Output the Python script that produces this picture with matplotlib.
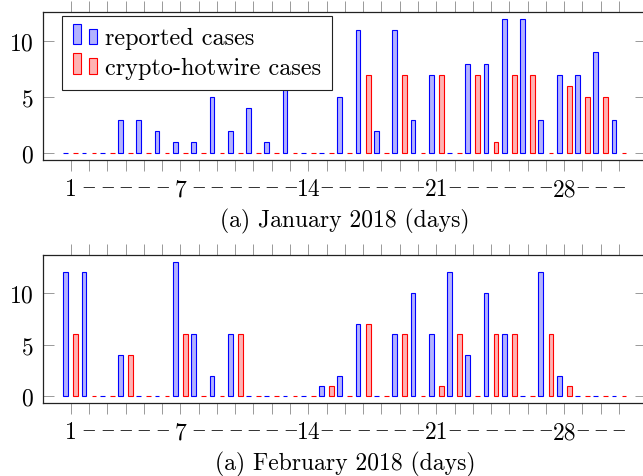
import matplotlib
matplotlib.use('Agg')
import matplotlib.pyplot as plt
from matplotlib.patches import Rectangle
from matplotlib.legend_handler import HandlerBase
from matplotlib.transforms import ScaledTranslation

plt.rcParams['font.family'] = 'serif'
plt.rcParams['font.serif'] = ['cmr10']
plt.rcParams['mathtext.fontset'] = 'cm'
plt.rcParams['axes.formatter.use_mathtext'] = True

# ---------------- data ----------------
days = list(range(1, 32))
jan_reported = [0, 0, 0, 3, 3, 2, 1, 1, 5, 2, 4, 1, 6, 0, 0, 5,
                11, 2, 11, 3, 7, 0, 8, 8, 12, 12, 3, 7, 7, 9, 3]
jan_crypto = [0, 0, 0, 0, 0, 0, 0, 0, 0, 0, 0, 0, 0, 0, 0, 0,
              7, 0, 7, 0, 7, 0, 7, 1, 7, 7, 0, 6, 5, 5, 0]
feb_reported = [12, 12, 0, 4, 0, 0, 13, 6, 2, 6, 0, 0, 0, 0, 1, 2,
                7, 0, 6, 10, 6, 12, 4, 10, 6, 0, 12, 2, 0, 0, 0]
feb_crypto = [6, 0, 0, 4, 0, 0, 6, 0, 0, 6, 0, 0, 0, 0, 1, 0,
              7, 0, 6, 0, 1, 6, 0, 6, 6, 0, 6, 1, 0, 0, 0]
labeled_days = [1, 7, 14, 21, 28]
tick_labels = [str(d) if d in labeled_days else r'$-$' for d in days]
series_labels = ['reported cases', 'crypto-hotwire cases']
titles = ['(a) January 2018 (days)', '(a) February 2018 (days)']
yticks = [0, 5, 10]

BLUE_E, BLUE_F = '#0000ff', '#b3b3ff'
RED_E, RED_F = '#ff0000', '#ffb3b3'

W, H = 643, 477
fig = plt.figure(figsize=(W / 100, H / 100), dpi=100)


def px_axes(l, t, r, b):
    return fig.add_axes([l / W, 1 - b / H, (r - l) / W, (b - t) / H])


ax1 = px_axes(43.3, 13, 646.4, 161)
ax2 = px_axes(43.3, 256, 646.4, 404)


class BarPairHandler(HandlerBase):
    def __init__(self, fc, ec):
        super().__init__()
        self.fc, self.ec = fc, ec

    def create_artists(self, legend, orig_handle, xdescent, ydescent,
                       width, height, fontsize, trans):
        w = width / 3.0
        r1 = Rectangle((-xdescent, -ydescent), w, 1.2 * height,
                       facecolor=self.fc, edgecolor=self.ec, lw=0.8,
                       transform=trans)
        r2 = Rectangle((-xdescent + 2 * w, -ydescent), w, 0.9 * height,
                       facecolor=self.fc, edgecolor=self.ec, lw=0.8,
                       transform=trans)
        return [r1, r2]


FS = 17
bw = 0.26
off = 0.275
for ax, rep, cry, title, ymax in [(ax1, jan_reported, jan_crypto, titles[0], 12),
                                  (ax2, feb_reported, feb_crypto, titles[1], 13)]:
    xb = [d - off for d in days]
    xr = [d + off for d in days]
    b1 = ax.bar(xb, rep, width=bw, facecolor=BLUE_F, edgecolor=BLUE_E, linewidth=0.8)
    b2 = ax.bar(xr, cry, width=bw, facecolor=RED_F, edgecolor=RED_E, linewidth=0.8)
    ax.set_xlim(-0.5, 32.5)
    ax.set_ylim(-0.05 * ymax, 1.05 * ymax)
    ax.set_xticks(days)
    ax.set_xticklabels(tick_labels)
    ax.set_yticks(yticks)
    ax.tick_params(axis='x', which='both', direction='out', length=8, width=0.7,
                   color='#999999', top=True, bottom=True, labelsize=FS, pad=5)
    ax.tick_params(axis='y', direction='in', length=8, width=0.7,
                   color='#999999', left=True, right=True, labelsize=FS, pad=7)
    for lab in ax.get_xticklabels():
        if lab.get_text() == r'$-$':
            lab.set_fontsize(13.5)
            lab.set_transform(lab.get_transform() +
                              ScaledTranslation(0, 0.025, fig.dpi_scale_trans))
    for s in ax.spines.values():
        s.set_linewidth(0.9)
        s.set_color('#222222')
    if ax is ax1:
        leg = ax.legend([b1, b2], series_labels,
                        handler_map={b1: BarPairHandler(BLUE_F, BLUE_E),
                                     b2: BarPairHandler(RED_F, RED_E)},
                        loc='upper left', bbox_to_anchor=(0.031, 0.971),
                        borderaxespad=0, fontsize=17.5, handlelength=1.0,
                        handletextpad=0.3, borderpad=0.45, labelspacing=0.3,
                        frameon=True, fancybox=False, framealpha=1,
                        edgecolor='#222222')
        leg.get_frame().set_linewidth(0.8)

fig.text(345 / W, 1 - 227 / H, titles[0], ha='center', va='baseline', fontsize=FS)
fig.text(345 / W, 1 - 470 / H, titles[1], ha='center', va='baseline', fontsize=FS)

fig.savefig('out.png', dpi=100)
